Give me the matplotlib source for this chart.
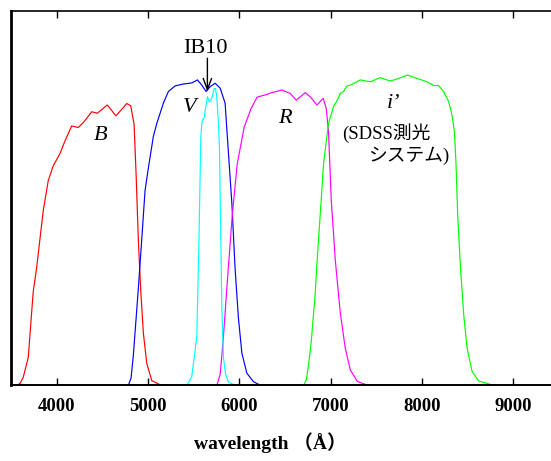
import matplotlib
matplotlib.use("Agg")
import matplotlib.pyplot as plt

# ---- data (wavelength in Angstrom, relative transmission) ----
b_wl = [3520, 3561, 3600, 3634, 3689, 3743, 3781, 3853, 3908, 3963, 4036, 4091, 4164, 4237, 4292,
        4384, 4445, 4555, 4650, 4768, 4811, 4848, 4870, 4895, 4921, 4950, 4987, 5042, 5133,
        5243, 5450]
b_tr = [0.0, 0.0, 0.006, 0.022, 0.075, 0.25, 0.315, 0.467, 0.547, 0.587, 0.619, 0.653, 0.693, 0.689, 0.702,
        0.731, 0.727, 0.749, 0.72, 0.753, 0.747, 0.698, 0.565, 0.387, 0.253, 0.139, 0.059, 0.013, 0.002,
        0.0, 0.0]

v_wl = [4785, 4815, 4840, 4895, 4932, 4968, 5004, 5059, 5097, 5133, 5169, 5206, 5224, 5297, 5388,
        5480, 5542, 5590, 5637, 5681, 5736, 5791, 5845, 5882, 5919, 5955, 5991, 6029, 6083,
        6156, 6229, 6450]
v_tr = [0.0, 0.02, 0.081, 0.26, 0.39, 0.52, 0.58, 0.665, 0.70, 0.727, 0.754, 0.775, 0.785, 0.80, 0.805,
        0.808, 0.816, 0.802, 0.785, 0.798, 0.807, 0.794, 0.754, 0.62, 0.487, 0.31, 0.18, 0.086, 0.033,
        0.01, 0.001, 0.0]

ib_wl = [5425, 5480, 5535, 5560, 5579, 5590, 5597, 5615, 5631, 5651, 5673, 5700, 5725, 5741,
         5754, 5772, 5783, 5794, 5809, 5827, 5850, 5880, 5930, 6050]
ib_tr = [0.0, 0.024, 0.13, 0.40, 0.664, 0.70, 0.709, 0.714, 0.74, 0.771, 0.757, 0.767, 0.793, 0.793,
         0.77, 0.70, 0.637, 0.46, 0.21, 0.075, 0.03, 0.01, 0.003, 0.0]

r_wl = [5754, 5791, 5824, 5867, 5922, 5977, 6054, 6130, 6196, 6284, 6357, 6467, 6558, 6624,
        6723, 6777, 6851, 6920, 6953, 6978, 7008, 7052, 7106, 7161, 7216, 7293, 7402, 7800]
r_tr = [0.0, 0.03, 0.12, 0.27, 0.45, 0.59, 0.69, 0.74, 0.77, 0.776, 0.782, 0.789, 0.780, 0.762,
        0.782, 0.771, 0.749, 0.767, 0.74, 0.678, 0.495, 0.335, 0.196, 0.10, 0.042, 0.011, 0.001, 0.0]

i_wl = [6704, 6735, 6759, 6790, 6814, 6832, 6851, 6887, 6924, 6942, 6978, 6997, 7033, 7070, 7107,
        7143, 7180, 7216, 7326, 7435, 7545, 7655, 7746, 7844, 7947, 8057, 8130, 8184, 8239,
        8294, 8331, 8357, 8375, 8393, 8422, 8459, 8496, 8551, 8623, 8751, 8860, 9100]
i_tr = [0.0, 0.015, 0.055, 0.12, 0.193, 0.245, 0.326, 0.456, 0.594, 0.63, 0.70, 0.715, 0.745, 0.76, 0.78,
        0.785, 0.80, 0.802, 0.816, 0.811, 0.822, 0.813, 0.82, 0.829, 0.82, 0.811, 0.801, 0.801, 0.785,
        0.758, 0.722, 0.678, 0.589, 0.455, 0.322, 0.188, 0.10, 0.037, 0.012, 0.003, 0.0, 0.0]

xticks = [4000, 5000, 6000, 7000, 8000, 9000]

SERIF = ["Liberation Serif", "Noto Sans CJK JP", "DejaVu Serif"]

fig = plt.figure(figsize=(5.51, 4.61), dpi=100)
ax = fig.add_axes([0.020, 0.1638, 0.98, 0.8123])

lw = 0.85
ax.plot(b_wl, b_tr, color="#ff0000", lw=lw)
ax.plot(v_wl, v_tr, color="#0000ff", lw=lw)
ax.plot(r_wl, r_tr, color="#ff00ff", lw=lw)
ax.plot(i_wl, i_tr, color="#00ff00", lw=lw)
ax.plot(ib_wl, ib_tr, color="#00ffff", lw=lw)

ax.set_xlim(3500, 9415)
ax.set_ylim(0, 1)
ax.set_xticks(xticks)
ax.set_xticklabels([str(t) for t in xticks], family=SERIF, fontweight="bold", fontsize=13.5)
ax.set_yticks([])
ax.tick_params(axis="x", direction="in", top=True, bottom=True, length=5, width=1, pad=9)

ax.spines["right"].set_visible(False)
ax.spines["left"].set_linewidth(2)
ax.spines["bottom"].set_linewidth(1.4)
ax.spines["top"].set_linewidth(1.2)

# labels
ax.text(4486, 0.656, "B", family=SERIF, style="italic", fontsize=16, ha="center", va="baseline")
ax.text(5460, 0.730, "V", family=SERIF, style="italic", fontsize=16, ha="center", va="baseline")
ax.text(6500, 0.701, "R", family=SERIF, style="italic", fontsize=16, ha="center", va="baseline")
ax.text(7694, 0.741, "i\u2019", family=SERIF, style="italic", fontsize=16, ha="center", va="baseline")
ax.text(7124, 0.658, "(SDSS測光", family=SERIF, fontsize=13.5, ha="left", va="baseline")
ax.text(7409, 0.599, "システム)", family=SERIF, fontsize=13.5, ha="left", va="baseline")

ax.text(5635, 0.888, "IB10", family=SERIF, fontsize=16, ha="center", va="baseline")
ax.annotate("", xy=(5651, 0.785), xytext=(5651, 0.874),
            arrowprops=dict(arrowstyle="->,head_length=0.8,head_width=0.3", color="black", lw=1.0,
                            shrinkA=0, shrinkB=0))

fig.text(270 / 551, 0.026, "wavelength （Å）", family=SERIF, fontweight="bold", fontsize=14,
         ha="center", va="baseline")

fig.savefig("out.png", dpi=100)
